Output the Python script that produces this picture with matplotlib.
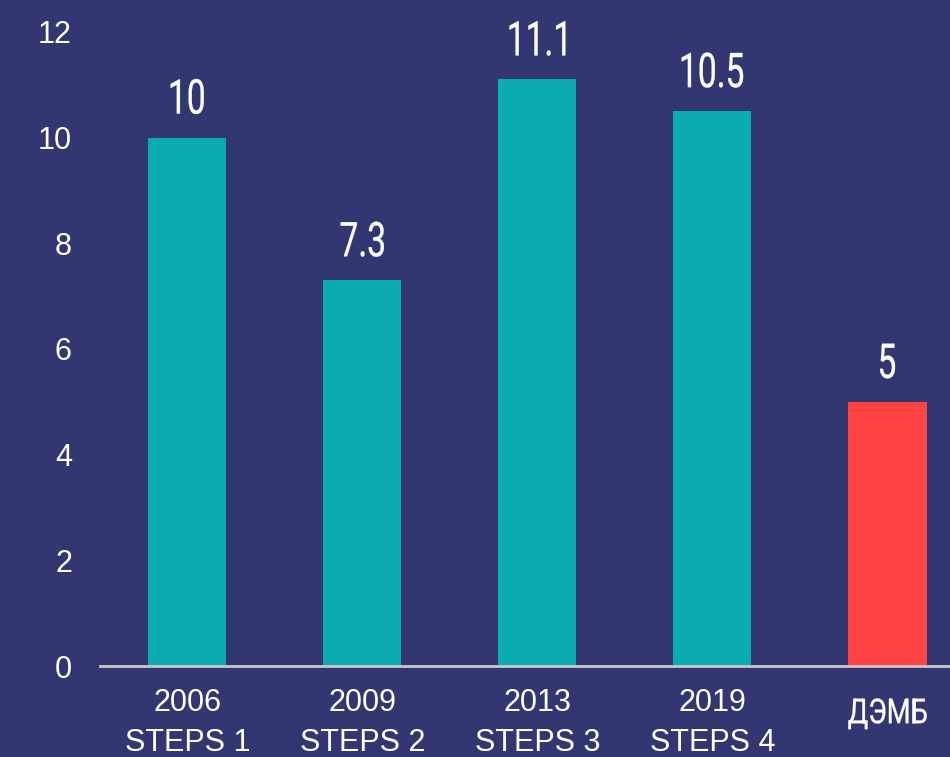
import numpy as np
import matplotlib.pyplot as plt
from matplotlib.textpath import TextPath
from matplotlib.patches import PathPatch
from matplotlib.font_manager import FontProperties
from matplotlib.transforms import Affine2D

categories = ["2006\nSTEPS 1", "2009\nSTEPS 2", "2013\nSTEPS 3", "2019\nSTEPS 4", "ДЭМБ"]
values = [10, 7.3, 11.1, 10.5, 5]
value_labels = ["10", "7.3", "11.1", "10.5", "5"]
colors = ["#0AACB0", "#0AACB0", "#0AACB0", "#0AACB0", "#FF4343"]

bg = "#323771"
cond_font = FontProperties(family=["Roboto", "DejaVu Sans"])


def narrow_text(fig, s, x, y, cap_px, squeeze, va="baseline"):
    # condensed text: draw the glyph outline squeezed sideways (display pixels)
    ref = TextPath((0, 0), "0", size=1, prop=cond_font).get_extents()
    path = TextPath((0, 0), s, size=1, prop=cond_font)
    ext = path.get_extents()
    sy = cap_px / ref.height
    sx = sy * squeeze
    ty = y if va == "baseline" else y - ref.height * sy
    tr = Affine2D().scale(sx, sy).translate(x - (ext.x0 + ext.width / 2) * sx, ty)
    fig.add_artist(PathPatch(path, transform=tr, facecolor="white",
                             edgecolor="white", lw=0.25))


fig = plt.figure(figsize=(9.5, 7.57), dpi=100, facecolor=bg)
ax = fig.add_axes([0.105, 0.12, 0.895, 0.838])
ax.set_facecolor(bg)

x = np.arange(len(categories))
ax.bar(x, values, width=0.446, color=colors, zorder=2)

ax.set_xlim(-0.5, 4.357)
ax.set_ylim(0, 12)
ax.set_yticks(range(0, 13, 2))
ax.tick_params(axis="y", length=0, pad=20, labelsize=22, labelcolor="white")
ax.tick_params(axis="x", length=0, pad=16, labelsize=22, labelcolor="white")
for lbl in ax.get_yticklabels():
    lbl.set_family("Liberation Sans")
ax.set_xticks(x)
ax.set_xticklabels(categories[:-1] + [""], family="Liberation Sans", linespacing=1.4)

for s in ["top", "right", "left"]:
    ax.spines[s].set_visible(False)
ax.spines["bottom"].set_color("#C8C8C8")
ax.spines["bottom"].set_linewidth(2)

# value labels above bars
for xi, v, lab in zip(x, values, value_labels):
    px, py = ax.transData.transform((xi, v))
    narrow_text(fig, lab, px, py + 24, 35, 0.7)

# last category label in condensed font
px, py0 = ax.transData.transform((x[-1], 0))
narrow_text(fig, categories[-1], px, py0 - 32, 25, 0.8, va="top")

fig.savefig("out.png", dpi=100, facecolor=bg)
